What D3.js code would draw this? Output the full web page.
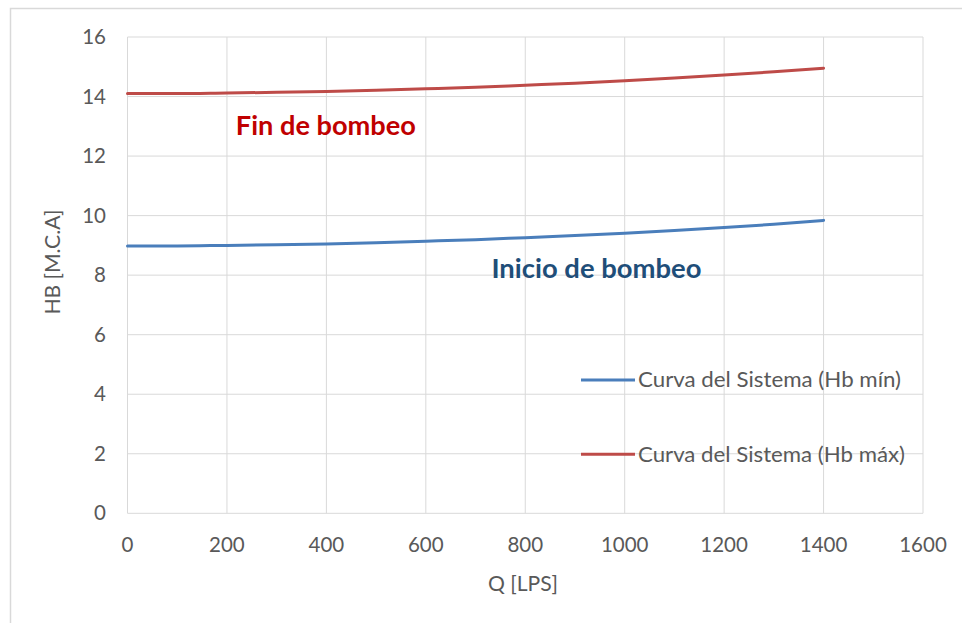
<!DOCTYPE html>
<html><head><meta charset="utf-8">
<script src="https://cdn.jsdelivr.net/npm/d3@7"></script>
<style>body{margin:0;background:#fff}svg{display:block}</style>
</head><body><svg id="c" width="962" height="623"></svg>
<script>
const qValues = [0,100,200,300,400,500,600,700,800,900,1000,1100,1200,1300,1400];
const hbMin = [8.98,8.98,9.00,9.02,9.05,9.09,9.14,9.19,9.26,9.33,9.41,9.50,9.60,9.71,9.84];
const hbMax = [14.10,14.10,14.12,14.14,14.17,14.21,14.26,14.31,14.38,14.45,14.53,14.62,14.72,14.83,14.95];
const xTicks = [0,200,400,600,800,1000,1200,1400,1600];
const yTicks = [0,2,4,6,8,10,12,14,16];
const seriesNames = ["Curva del Sistema (Hb mín)","Curva del Sistema (Hb máx)"];
const seriesColors = ["#4a7ebb","#be4b48"];
const annotations = [
  {text:"Fin de bombeo", q:218, h:12.72, color:"#c00000", w:180},
  {text:"Inicio de bombeo", q:732, h:7.9, color:"#1f4e79", w:210}
];

const svg = d3.select("#c");
const font = "Lato, 'Open Sans', sans-serif";
const M = {l:127.5, t:37, r:923, b:513.3};
const x = d3.scaleLinear().domain([0,1600]).range([M.l,M.r]);
const y = d3.scaleLinear().domain([0,16]).range([M.b,M.t]);

// outer frame
svg.append("rect").attr("x",10.5).attr("y",8.5).attr("width",1000).attr("height",1000)
  .attr("fill","none").attr("stroke","#d9d9d9").attr("stroke-width",1.5);

// gridlines
const g = svg.append("g");
g.selectAll(".gx").data(xTicks).join("line")
  .attr("x1",d=>x(d)).attr("x2",d=>x(d)).attr("y1",M.t).attr("y2",M.b)
  .attr("stroke","#d9d9d9").attr("stroke-width",1);
g.selectAll(".gy").data(yTicks).join("line")
  .attr("y1",d=>y(d)).attr("y2",d=>y(d)).attr("x1",M.l).attr("x2",M.r)
  .attr("stroke","#d9d9d9").attr("stroke-width",1);

// tick labels
svg.append("g").selectAll("text").data(yTicks).join("text")
  .attr("x",106).attr("y",d=>y(d)).attr("dy","0.35em").attr("text-anchor","end")
  .attr("font-family",font).attr("font-size",20.5).attr("fill","#595959").text(d=>d);
svg.append("g").selectAll("text").data(xTicks).join("text")
  .attr("x",d=>x(d)).attr("y",552).attr("text-anchor","middle")
  .attr("font-family",font).attr("font-size",20.5).attr("fill","#595959").text(d=>d);

// axis titles
svg.append("text").attr("transform","translate(60,262) rotate(-90)").attr("text-anchor","middle")
  .attr("font-family",font).attr("font-size",21).attr("fill","#595959")
  .attr("textLength",105).attr("lengthAdjust","spacingAndGlyphs").text("HB [M.C.A]");
svg.append("text").attr("x",523).attr("y",591).attr("text-anchor","middle")
  .attr("font-family",font).attr("font-size",21).attr("fill","#595959")
  .attr("textLength",70).attr("lengthAdjust","spacingAndGlyphs").text("Q [LPS]");

// lines
const line = d3.line().x((d,i)=>x(qValues[i])).y(d=>y(d)).curve(d3.curveMonotoneX);
[hbMin,hbMax].forEach((s,i)=>{
  svg.append("path").attr("d",line(s)).attr("fill","none")
    .attr("stroke",seriesColors[i]).attr("stroke-width",3).attr("stroke-linecap","round");
});

// annotations
svg.append("g").selectAll("text").data(annotations).join("text")
  .attr("x",d=>x(d.q)).attr("y",d=>y(d.h))
  .attr("font-family",font).attr("font-weight","bold").attr("font-size",26)
  .attr("textLength",d=>d.w).attr("lengthAdjust","spacingAndGlyphs")
  .attr("fill",d=>d.color).text(d=>d.text);

// legend
const legY = [380,454.3];
const lg = svg.append("g");
seriesNames.forEach((n,i)=>{
  lg.append("line").attr("x1",581).attr("x2",635).attr("y1",legY[i]).attr("y2",legY[i])
    .attr("stroke",seriesColors[i]).attr("stroke-width",3);
  lg.append("text").attr("x",638).attr("y",legY[i]).attr("dy","0.35em")
    .attr("font-family",font).attr("font-size",21).attr("fill","#595959")
    .attr("textLength",i===0?263:267).attr("lengthAdjust","spacingAndGlyphs").text(n);
});
</script></body></html>
